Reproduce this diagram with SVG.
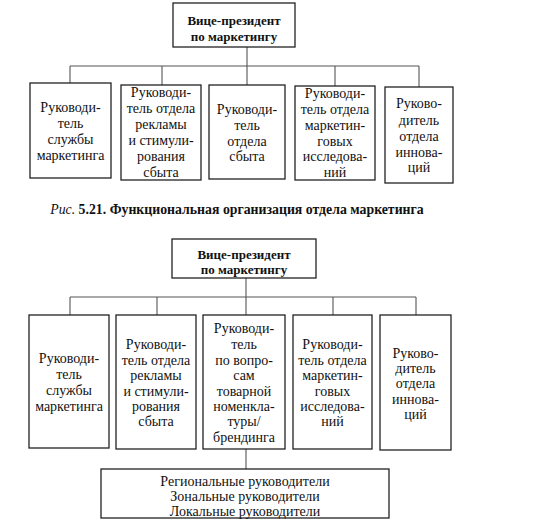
<svg xmlns="http://www.w3.org/2000/svg" width="543" height="532" viewBox="0 0 543 532" font-family="'Liberation Serif', serif">
<style>
.box{fill:#fff;stroke:#222;stroke-width:1.3}
.ln{fill:none;stroke:#555;stroke-width:1.1}
text{font-family:'Liberation Serif','DejaVu Serif',serif;fill:#111;text-anchor:middle}
.t{font-size:14px}
.b{font-size:13px;font-weight:bold}
.c{font-size:13.8px;font-weight:bold}
</style>
<rect width="543" height="532" fill="#fff"/>
<g id="connectors">
<path class="ln" d="M247,47 V66 M70,66 H419 M70,66 V83 M162,66 V85 M247,66 V85 M335,66 V86 M419,66 V87"/>
<path class="ln" d="M246,278 V297 M70,297 H416 M70,297 V315 M157,297 V315 M246,297 V315 M333,297 V315 M416,297 V315 M246,449 V469"/>
</g>
<g id="vp1"><rect class="box" x="173" y="3" width="122" height="44"/>
<text class="b" x="234" y="25">Вице-президент</text><text class="b" x="234" y="41">по маркетингу</text></g>
<g id="n1"><rect class="box" x="30" y="83" width="81" height="95"/>
<text class="t" x="70.5" y="112">Руководи-</text><text class="t" x="70.5" y="128">тель</text><text class="t" x="70.5" y="144">службы</text><text class="t" x="70.5" y="160">маркетинга</text></g>
<g id="n2"><rect class="box" x="121" y="85" width="80" height="95"/>
<text class="t" x="161" y="97">Руководи-</text><text class="t" x="161" y="113">тель отдела</text><text class="t" x="161" y="129">рекламы</text><text class="t" x="161" y="145">и стимули-</text><text class="t" x="161" y="161">рования</text><text class="t" x="161" y="177">сбыта</text></g>
<g id="n3"><rect class="box" x="209" y="85" width="76" height="94"/>
<text class="t" x="247" y="114">Руководи-</text><text class="t" x="247" y="130">тель</text><text class="t" x="247" y="146">отдела</text><text class="t" x="247" y="161">сбыта</text></g>
<g id="n4"><rect class="box" x="295" y="86" width="80" height="94"/>
<text class="t" x="335" y="98">Руководи-</text><text class="t" x="335" y="114">тель отдела</text><text class="t" x="335" y="130">маркетин-</text><text class="t" x="335" y="146">говых</text><text class="t" x="335" y="161">исследова-</text><text class="t" x="335" y="177">ний</text></g>
<g id="n5"><rect class="box" x="385" y="87" width="68" height="96"/>
<text class="t" x="419" y="108">Руково-</text><text class="t" x="419" y="125">дитель</text><text class="t" x="419" y="141">отдела</text><text class="t" x="419" y="157">иннова-</text><text class="t" x="419" y="172">ций</text></g>
<text class="c" x="237" y="214"><tspan font-style="italic" font-weight="normal">Рис.</tspan> 5.21. Функциональная организация отдела маркетинга</text>
<g id="vp2"><rect class="box" x="172" y="239" width="144" height="39"/>
<text class="b" x="244" y="259">Вице-президент</text><text class="b" x="244" y="274">по маркетингу</text></g>
<g id="m1"><rect class="box" x="29" y="315" width="80" height="133"/>
<text class="t" x="69" y="363">Руководи-</text><text class="t" x="69" y="379">тель</text><text class="t" x="69" y="395">службы</text><text class="t" x="69" y="411">маркетинга</text></g>
<g id="m2"><rect class="box" x="116" y="315" width="80" height="134"/>
<text class="t" x="156" y="349">Руководи-</text><text class="t" x="156" y="365">тель отдела</text><text class="t" x="156" y="380">рекламы</text><text class="t" x="156" y="396">и стимули-</text><text class="t" x="156" y="411">рования</text><text class="t" x="156" y="426">сбыта</text></g>
<g id="m3"><rect class="box" x="203" y="315" width="82" height="134"/>
<text class="t" x="244" y="333">Руководи-</text><text class="t" x="244" y="349">тель</text><text class="t" x="244" y="365">по вопро-</text><text class="t" x="244" y="380">сам</text><text class="t" x="244" y="396">товарной</text><text class="t" x="244" y="411">номенкла-</text><text class="t" x="244" y="426">туры/</text><text class="t" x="244" y="442">брендинга</text></g>
<g id="m4"><rect class="box" x="293" y="315" width="79" height="134"/>
<text class="t" x="332.5" y="349">Руководи-</text><text class="t" x="332.5" y="365">тель отдела</text><text class="t" x="332.5" y="380">маркетин-</text><text class="t" x="332.5" y="396">говых</text><text class="t" x="332.5" y="411">исследова-</text><text class="t" x="332.5" y="426">ний</text></g>
<g id="m5"><rect class="box" x="380" y="315" width="71" height="135"/>
<text class="t" x="415.5" y="358">Руково-</text><text class="t" x="415.5" y="373">дитель</text><text class="t" x="415.5" y="388">отдела</text><text class="t" x="415.5" y="404">иннова-</text><text class="t" x="415.5" y="419">ций</text></g>
<g id="regional"><rect class="box" x="101" y="469" width="288" height="49"/>
<text class="t" x="245" y="486">Региональные руководители</text><text class="t" x="245" y="501">Зональные руководители</text><text class="t" x="245" y="516">Локальные руководители</text></g>
</svg>
